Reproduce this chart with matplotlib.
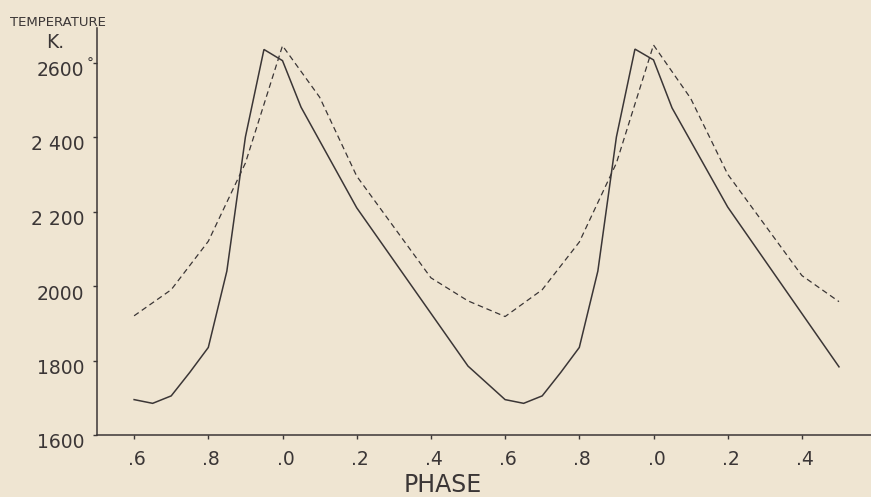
import matplotlib
matplotlib.use("Agg")
import matplotlib.pyplot as plt
import matplotlib.transforms as mtransforms

# Continuous phase axis (0.6 .. 2.5 spans two cycles)
solid_phase = [0.60, 0.65, 0.70, 0.75, 0.80, 0.85, 0.90, 0.95, 1.00, 1.05, 1.20, 1.50,
               1.60, 1.65, 1.70, 1.75, 1.80, 1.85, 1.90, 1.95, 2.00, 2.05, 2.20, 2.50]
solid_temp = [1695, 1685, 1705, 1768, 1835, 2040, 2400, 2635, 2605, 2480, 2210, 1785,
              1695, 1685, 1705, 1768, 1835, 2040, 2400, 2636, 2607, 2478, 2212, 1783]

dashed_phase = [0.60, 0.70, 0.80, 0.90, 1.00, 1.10, 1.20, 1.40, 1.50,
                1.60, 1.70, 1.80, 1.90, 2.00, 2.10, 2.20, 2.40, 2.50]
dashed_temp = [1920, 1990, 2120, 2330, 2645, 2507, 2295, 2022, 1960,
               1918, 1990, 2118, 2330, 2647, 2504, 2300, 2028, 1958]

x_ticks = [0.6, 0.8, 1.0, 1.2, 1.4, 1.6, 1.8, 2.0, 2.2, 2.4]
x_labels = [".6", ".8", ".0", ".2", ".4", ".6", ".8", ".0", ".2", ".4"]
y_ticks = [1600, 1800, 2000, 2200, 2400, 2600]
y_labels = ["1600", "1800", "2000", "2 200", "2 400", "2600"]

paper = "#efe5d2"
ink = "#3b3636"

fig = plt.figure(figsize=(8.71, 4.97), dpi=100, facecolor=paper)
ax = fig.add_axes([97 / 871, 1 - 435 / 497, 774 / 871, (435 - 28) / 497])
ax.set_facecolor(paper)

ax.plot(solid_phase, solid_temp, color=ink, lw=1.1, solid_joinstyle="miter")
ax.plot(dashed_phase, dashed_temp, color=ink, lw=0.9, linestyle=(0, (4.5, 3.0)))

ax.set_xlim(0.5, 0.5 + 774 / 371)
ax.set_ylim(1600, 1600 + 407 / 74.5 * 200)

for s in ("top", "right"):
    ax.spines[s].set_visible(False)
for s in ("left", "bottom"):
    ax.spines[s].set_color(ink)
    ax.spines[s].set_linewidth(1.1)

ax.set_xticks(x_ticks)
ax.set_xticklabels(x_labels)
ax.set_yticks(y_ticks)
ax.set_yticklabels(y_labels)
ax.tick_params(axis="both", colors=ink, length=3, width=1.0, labelsize=13.5,
               labelcolor=ink)
ax.tick_params(axis="y", pad=6)
ax.tick_params(axis="x", pad=8)

# hand-lettered labels sit a little below their ticks
off = mtransforms.ScaledTranslation(0, -6 / 100, fig.dpi_scale_trans)
for lab in ax.get_yticklabels():
    lab.set_transform(lab.get_transform() + off)
offx = mtransforms.ScaledTranslation(3 / 100, 0, fig.dpi_scale_trans)
for lab in ax.get_xticklabels():
    lab.set_transform(lab.get_transform() + offx)

fig.text(90 / 871, 1 - 64 / 497, "°", fontsize=10, color=ink, ha="center", va="center")
fig.text(10 / 871, 1 - 22 / 497, "TEMPERATURE", fontsize=9.5, color=ink,
         ha="left", va="center")
fig.text(55 / 871, 1 - 43 / 497, "K.", fontsize=13.5, color=ink, ha="center", va="center")
fig.text(443 / 871, 1 - 485 / 497, "PHASE", fontsize=17, color=ink, ha="center",
         va="center")

fig.savefig("out.png", dpi=100, facecolor=paper)
